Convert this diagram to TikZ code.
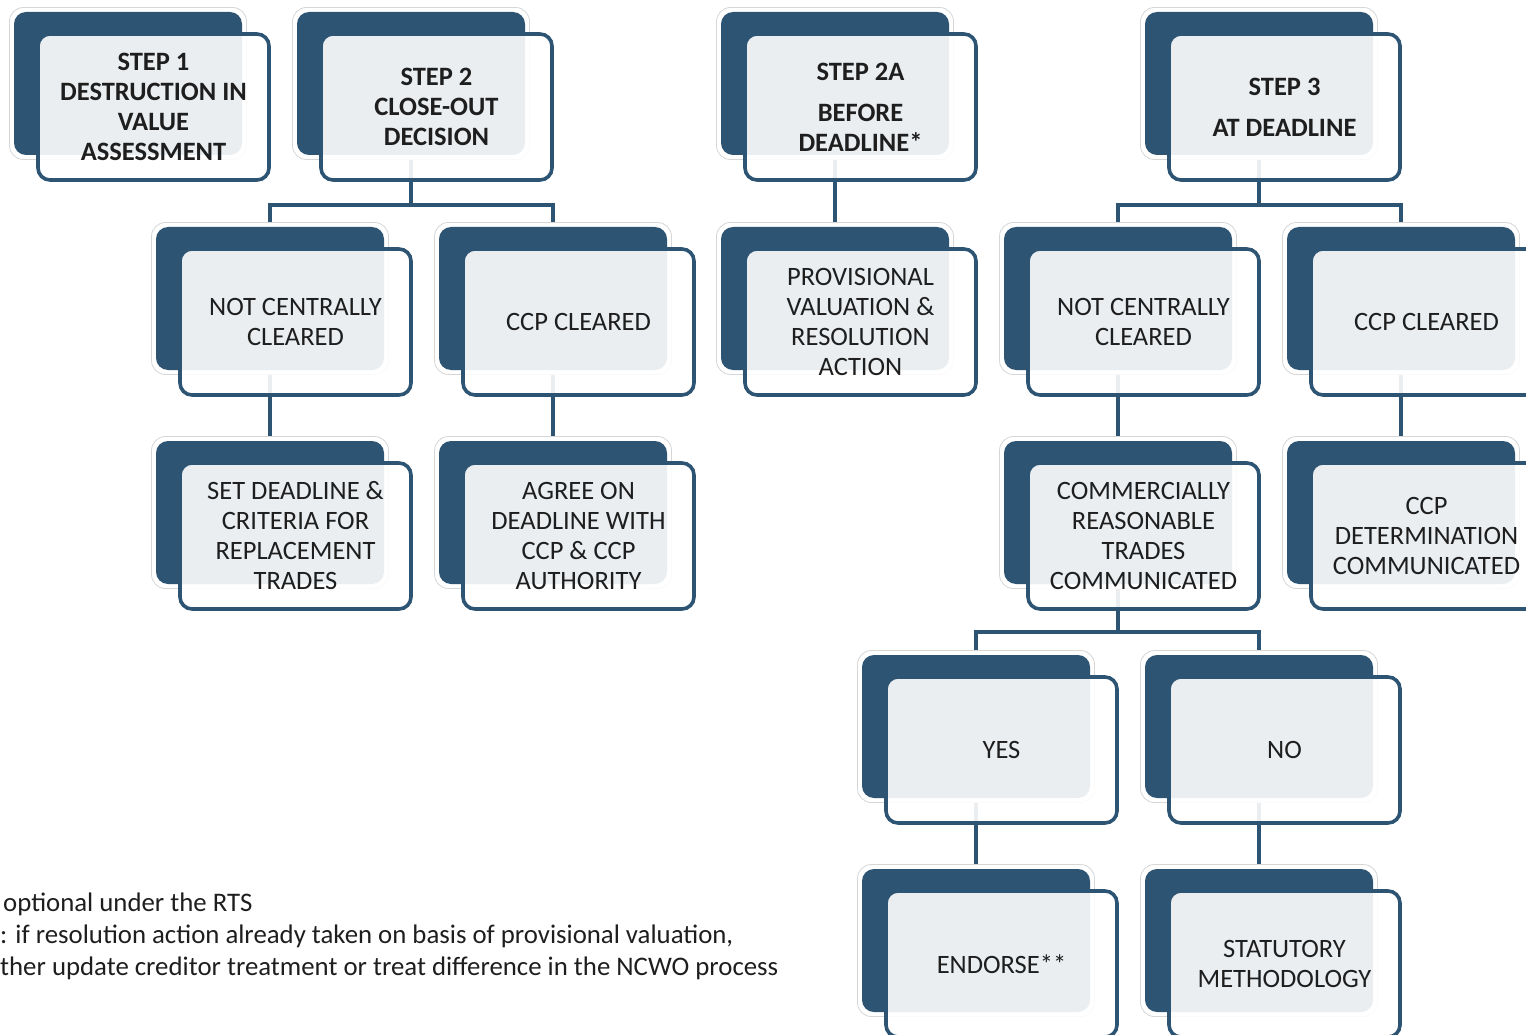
\documentclass[tikz,border=0pt]{standalone}
\usepackage{fontspec}
\setmainfont{Carlito}
\usetikzlibrary{backgrounds}
\definecolor{navy}{HTML}{2E5473}
\definecolor{txt}{HTML}{1E1E1E}
\definecolor{glowc}{HTML}{D6D6D6}
\newcommand\flowbox[5]{%
  \node[glowbox] (#1g) at (#2+114,#3+71.5) {};
  \node[backbox] (#1b) at (#2+114,#3+71.5) {};
  \node[#4] (#1) at (#2+139.5,#3+95) {#5};}
\begin{document}
\begin{tikzpicture}[x=1pt,y=-1pt,
  glowbox/.style={draw=glowc, line width=0.8pt, fill=white, rounded corners=14pt,
    minimum width=237pt, minimum height=152pt, inner sep=0pt, outer sep=0pt},
  backbox/.style={fill=navy, rounded corners=12pt, minimum width=228pt,
    minimum height=143pt, inner sep=0pt},
  frontbox/.style={draw=navy, line width=3.6pt, fill=white, fill opacity=0.9,
    text opacity=1, draw opacity=1, rounded corners=12pt, minimum width=231pt,
    minimum height=146pt, inner sep=0pt, align=center, text=txt,
    font=\fontsize{26.5}{30}\selectfont},
  stepbox/.style={frontbox, font=\fontsize{26.5}{30}\selectfont\bfseries},
  conn/.style={draw=navy, line width=4pt},
  note/.style={anchor=base west, inner sep=0pt, text=txt,
    font=\fontsize{26.8}{32}\selectfont}
]
\path[use as bounding box, clip] (0,0) rectangle (1526,1035);

% row 1
\flowbox{s1}{14}{12}{stepbox}{STEP 1\\DESTRUCTION IN\\VALUE\\ASSESSMENT}
\flowbox{s2}{297}{12}{stepbox}{STEP 2\\CLOSE-OUT\\DECISION}
\flowbox{s2a}{721}{12}{stepbox}{STEP 2A\\[11pt]BEFORE\\DEADLINE*}
\flowbox{s3}{1145}{12}{stepbox}{STEP 3\\[11pt]AT DEADLINE}
% row 2
\flowbox{n1}{156}{227}{frontbox}{NOT CENTRALLY\\CLEARED}
\flowbox{c1}{439}{227}{frontbox}{CCP CLEARED}
\flowbox{pv}{721}{227}{frontbox}{PROVISIONAL\\VALUATION \&\\RESOLUTION\\ACTION}
\flowbox{n2}{1004}{227}{frontbox}{NOT CENTRALLY\\CLEARED}
\flowbox{c2}{1287}{227}{frontbox}{CCP CLEARED}
% row 3
\flowbox{sd}{156}{441}{frontbox}{SET DEADLINE \&\\CRITERIA FOR\\REPLACEMENT\\TRADES}
\flowbox{ag}{439}{441}{frontbox}{AGREE ON\\DEADLINE WITH\\CCP \& CCP\\AUTHORITY}
\flowbox{cr}{1004}{441}{frontbox}{COMMERCIALLY\\REASONABLE\\TRADES\\COMMUNICATED}
\flowbox{cd}{1287}{441}{frontbox}{CCP\\DETERMINATION\\COMMUNICATED}
% row 4
\flowbox{ys}{862}{655}{frontbox}{YES}
\flowbox{no}{1145}{655}{frontbox}{NO}
% row 5
\flowbox{en}{862}{869}{frontbox}{ENDORSE**}
\flowbox{st}{1145}{869}{frontbox}{STATUTORY\\METHODOLOGY}

\begin{pgfonlayer}{background}
  \draw[conn] (s2b.center) -- (s2b.center |- 0,205) -| (n1b.center);
  \draw[conn] (s2b.center |- 0,205) -| (c1b.center);
  \draw[conn] (s2ab.center) -- (pvb.center);
  \draw[conn] (s3b.center) -- (s3b.center |- 0,205) -| (n2b.center);
  \draw[conn] (s3b.center |- 0,205) -| (c2b.center);
  \draw[conn] (n1b.center) -- (sdb.center);
  \draw[conn] (c1b.center) -- (agb.center);
  \draw[conn] (n2b.center) -- (crb.center);
  \draw[conn] (c2b.center) -- (cdb.center);
  \draw[conn] (crb.center) -- (crb.center |- 0,632) -| (ysb.center);
  \draw[conn] (crb.center |- 0,632) -| (nob.center);
  \draw[conn] (ysb.center) -- (enb.center);
  \draw[conn] (nob.center) -- (stb.center);
\end{pgfonlayer}

\node[note] (f1) at (3,911) {optional under the RTS};
\node[note] (f2) at (0,943) {: if resolution action already taken on basis of provisional valuation,};
\node[note] (f3) at (0,975) {ther update creditor treatment or treat difference in the NCWO process};
\end{tikzpicture}
\end{document}
